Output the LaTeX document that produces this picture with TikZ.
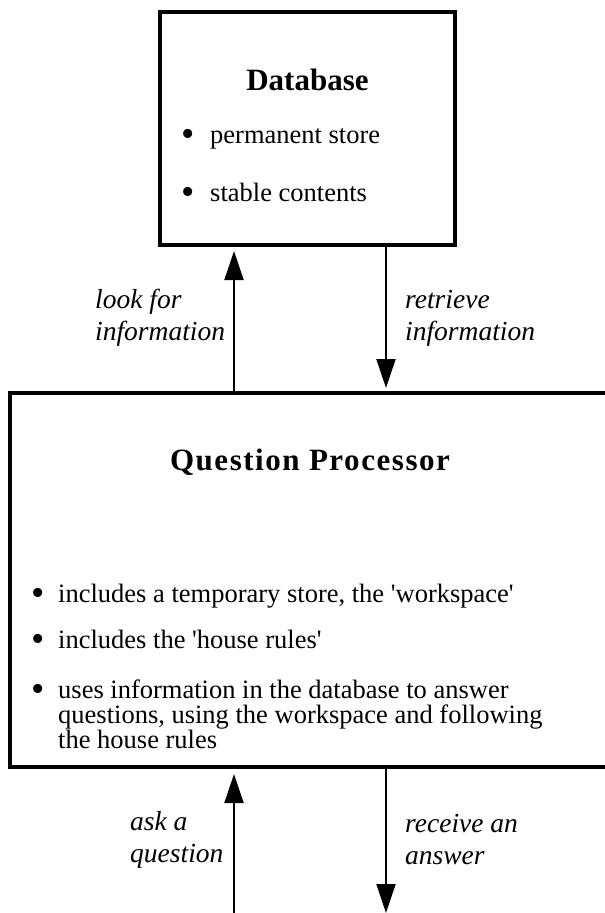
\documentclass[tikz,border=0pt]{standalone}
\usepackage{fontspec}
\setmainfont{Liberation Serif}
\usetikzlibrary{arrows.meta}
\tikzset{
  box/.style={draw, line width=4pt, inner sep=0pt},
  flow/.style={line width=2pt, -{Triangle[length=29pt,width=19pt]}},
  lbl/.style={font=\fontsize{27.5}{32}\selectfont\itshape, align=left, inner sep=0pt, anchor=west},
  txt/.style={font=\fontsize{26.5}{25}\selectfont, anchor=base west, inner sep=0pt},
  ttl/.style={font=\fontsize{31}{31}\selectfont\bfseries, anchor=base, inner sep=0pt},
  dot/.style={font=\fontsize{38}{38}\selectfont, anchor=base, inner sep=0pt}
}
\begin{document}
\begin{tikzpicture}[x=1pt,y=-1pt]
      \useasboundingbox (0,0) rectangle (605,913);
      % the two boxes
      \node[box, minimum width=295pt, minimum height=233pt] (db) at (307.5,128.5) {};
      \node[box, minimum width=598pt, minimum height=374pt] (qp) at (309,580) {};
      % database text
      \node[ttl] (dbtitle) at (307.5,90) {Database};
      \node[dot] (dbd1) at (188,146) {•};
      \node[txt] (dbt1) at (210,143) {permanent store};
      \node[dot] (dbd2) at (188,204) {•};
      \node[txt] (dbt2) at (210,201) {stable contents};
      % question processor text
      \node[ttl] (qptitle) at (310,470) {\addfontfeature{LetterSpace=5}Question Processor};
      \node[dot] (qpd1) at (38,605) {•};
      \node[txt] (qpt1) at (58,602) {includes a temporary store, the \textquotesingle workspace\textquotesingle};
      \node[dot] (qpd2) at (38,651) {•};
      \node[txt] (qpt2) at (58,648) {includes the \textquotesingle house rules\textquotesingle};
      \node[dot] (qpd3) at (38,701) {•};
      % base west of a three-line node is the last baseline
      \node[txt, align=left] (qpt3) at (58,748) {uses information in the database to answer\\
        questions, using the workspace and following\\the house rules};
      % arrows
      \coordinate (up) at (234,913);
      \coordinate (down) at (386,913);
      \draw[flow, shorten >=4pt] (qp.north -| up) -- (db.south -| up);
      \draw[flow, shorten >=3pt] (db.south -| down) -- (qp.north -| down);
      \draw[flow, shorten >=5pt] (up) -- (qp.south -| up);
      \draw[flow] (qp.south -| down) -- (down);
      % arrow labels
      \node[lbl] (look) at (95,318) {look for\\information};
      \node[lbl] (retr) at (405,318) {retrieve\\information};
      \node[lbl] (ask) at (130,840) {ask a\\question};
      \node[lbl] (recv) at (405,840) {receive an\\answer};
    \end{tikzpicture}
\end{document}
